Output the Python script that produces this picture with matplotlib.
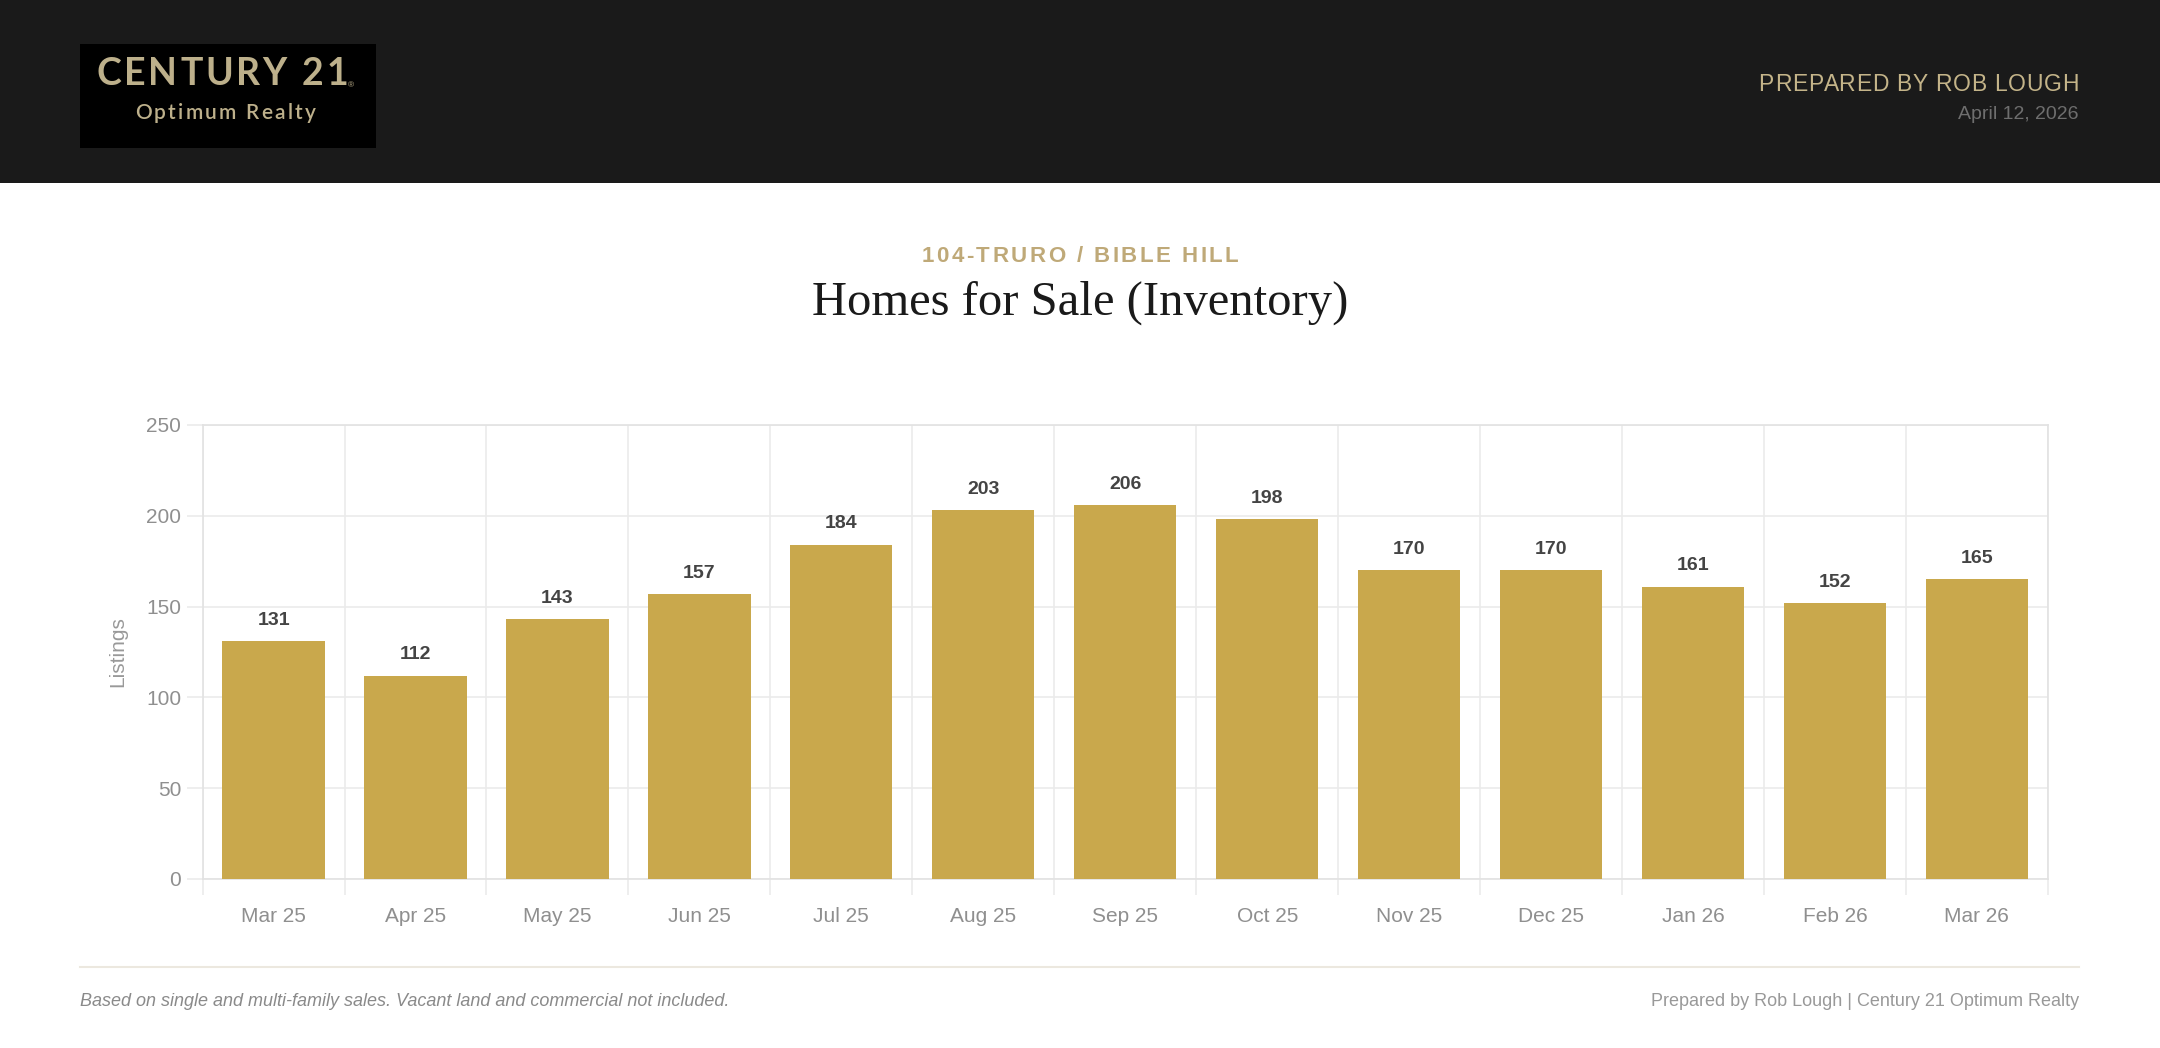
import matplotlib
matplotlib.use("Agg")
import matplotlib.pyplot as plt
from matplotlib.patches import Rectangle
from matplotlib.lines import Line2D

# data
months = ["Mar 25", "Apr 25", "May 25", "Jun 25", "Jul 25", "Aug 25", "Sep 25",
          "Oct 25", "Nov 25", "Dec 25", "Jan 26", "Feb 26", "Mar 26"]
listings = [131, 112, 143, 157, 184, 203, 206, 198, 170, 170, 161, 152, 165]
yticks = [0, 50, 100, 150, 200, 250]

region = "104-TRURO / BIBLE HILL"
title = "Homes for Sale (Inventory)"
prepared = "PREPARED BY ROB LOUGH"
date = "April 12, 2026"
note = "Based on single and multi-family sales. Vacant land and commercial not included."
credit = "Prepared by Rob Lough | Century 21 Optimum Realty"

gold = "#c9a84c"
tan = "#c4b489"
grid_c = "#ebebeb"

plt.rcParams['font.family'] = ['Liberation Sans', 'DejaVu Sans']

W, H = 2160, 1048
fig = plt.figure(figsize=(W / 100, H / 100), dpi=100)
fig.patch.set_facecolor("white")
rend = fig.canvas.get_renderer()


def spaced(x, y, s, gap, ha="left", **kw):
    # letter-spaced text, gap in pixels between characters
    def width(txt):
        t = fig.text(0, 0, txt, **kw)
        w = t.get_window_extent(rend).width
        t.remove()
        return w
    bar = width("|")
    offs = [width(s[:i] + "|") - bar if i else 0 for i in range(len(s))]
    total = width(s) + gap * (len(s) - 1)
    x0 = x * W
    if ha == "center":
        x0 -= total / 2
    elif ha == "right":
        x0 -= total
    for i, ch in enumerate(s):
        fig.text((x0 + offs[i] + gap * i) / W, y, ch, ha="left", va="center", **kw)


# header band + logo
fig.patches.append(Rectangle((0, 0.8254), 1, 0.1746, transform=fig.transFigure,
                             facecolor="#1a1a1a", edgecolor="none", zorder=0))
fig.patches.append(Rectangle((0.037, 0.8588), 0.137, 0.0992, transform=fig.transFigure,
                             facecolor="#000000", edgecolor="none", zorder=1))
spaced(0.1028, 0.9297, "CENTURY 21", 2.8, ha="center", family="Lato", fontweight="bold",
       fontsize=27, color="#bdb08b", zorder=2)
fig.text(0.1625, 0.918, "®", fontsize=6, color="#bdb08b", ha="center", va="center", zorder=2)
spaced(0.1042, 0.8922, "Optimum Realty", 2.2, ha="center", family="Lato",
       fontweight="semibold", fontsize=15, color="#bdb08b", zorder=2)

spaced(0.9625, 0.9198, prepared, 0.8, ha="right", fontsize=16.5, color=tan)
fig.text(0.9625, 0.8905, date, fontsize=14, color="#6e6e6e", ha="right", va="center")

# titles
spaced(0.5, 0.7548, region, 2.5, ha="center", fontsize=16, fontweight="bold", color="#bfa978")
fig.text(0.5, 0.7108, title, family="Liberation Serif", fontsize=35, color="#1a1a1a",
         ha="center", va="center")

# chart
ax = fig.add_axes([0.0938, 0.1613, 0.8543, 0.4332])
x = list(range(len(months)))
ax.bar(x, listings, width=0.72, color=gold, zorder=3)
for xi, v in zip(x, listings):
    ax.annotate(str(v), (xi, v), xytext=(0, 15), textcoords="offset points",
                ha="center", va="center", fontsize=14, fontweight="bold", color="#444444")

ax.set_xlim(-0.5, len(months) - 0.5)
ax.set_ylim(0, 250)
ax.set_yticks(yticks)
ax.set_xticks(x)
ax.set_xticklabels(months)
ax.set_xticks([i - 0.5 for i in range(len(months) + 1)], minor=True)

ax.grid(axis="y", color=grid_c, lw=1.2, zorder=0)
ax.grid(axis="x", which="minor", color=grid_c, lw=1.2, zorder=0)
ax.tick_params(axis="y", length=11.5, width=1.2, color=grid_c, labelsize=15,
               labelcolor="#8f8f8f", pad=4)
ax.tick_params(axis="x", which="major", length=0, labelsize=15, labelcolor="#8f8f8f", pad=20)
ax.tick_params(axis="x", which="minor", length=11.5, width=1.2, color=grid_c)
for s in ax.spines.values():
    s.set_color("#e2e2e2")
    s.set_linewidth(1.2)

ax.set_ylabel("Listings", fontsize=15, color="#999999")
ax.yaxis.set_label_coords(-0.041, 0.5)

# footer
fig.lines.append(Line2D([0.037, 0.9625], [0.0773, 0.0773], transform=fig.transFigure,
                        color="#ece8df", lw=1.5))
fig.text(0.037, 0.0440, note, fontsize=13, style="italic", color="#8a8a8a",
         ha="left", va="center")
fig.text(0.9625, 0.0440, credit, fontsize=13, color="#999999", ha="right", va="center")

fig.savefig("out.png", dpi=100)
